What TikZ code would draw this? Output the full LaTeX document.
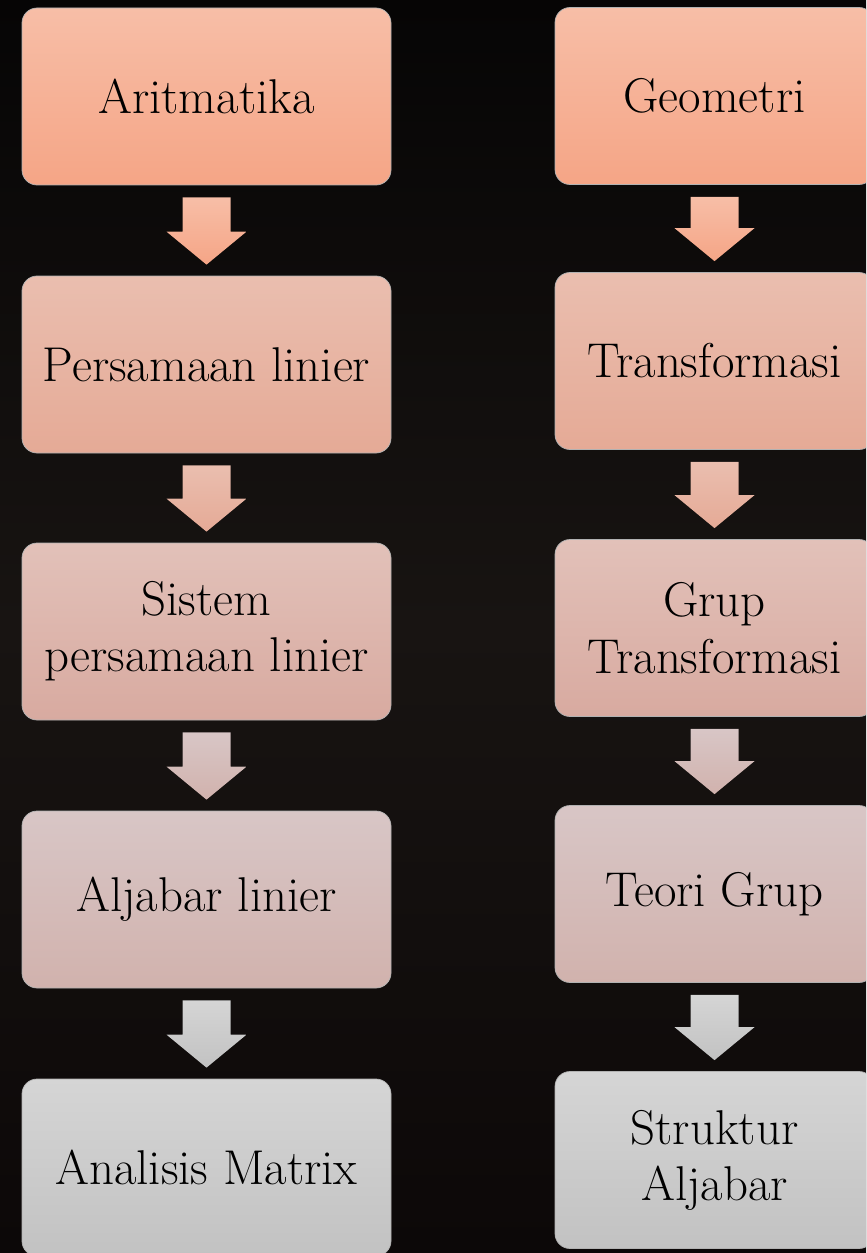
\documentclass[tikz,border=0pt]{standalone}
\usetikzlibrary{calc}

\definecolor{bgtop}{RGB}{6,5,5}
\definecolor{bgmid}{RGB}{24,20,18}
\definecolor{bgbot}{RGB}{12,8,8}
\definecolor{c1t}{RGB}{247,190,167}
\definecolor{c1b}{RGB}{245,165,134}
\definecolor{c2t}{RGB}{234,190,175}
\definecolor{c2b}{RGB}{229,170,150}
\definecolor{c3t}{RGB}{226,193,185}
\definecolor{c3b}{RGB}{216,170,160}
\definecolor{c4t}{RGB}{216,198,198}
\definecolor{c4b}{RGB}{209,178,173}
\definecolor{c5t}{RGB}{213,213,213}
\definecolor{c5b}{RGB}{194,194,194}

\begin{document}
\begin{tikzpicture}[
    box/.style={rounded corners=0.3cm, draw=black!30, line width=0.4pt,
        minimum height=3.54cm, inner sep=0pt, align=center,
        font=\fontsize{27.8}{32}\selectfont},
    leftbox/.style={box, minimum width=7.38cm},
    rightbox/.style={box, minimum width=6.38cm},
]
    \clip (0,0) rectangle (17.32,-25.06);
    \fill[top color=bgtop, bottom color=bgbot, middle color=bgmid] (0,0) rectangle (17.32,-25.06);

    % left column
    \node[leftbox, top color=c1t, bottom color=c1b] (arit) at (4.13,-1.93) {Aritmatika};
    \node[leftbox, top color=c2t, bottom color=c2b] (pers) at (4.13,-7.29) {Persamaan linier};
    \node[leftbox, top color=c3t, bottom color=c3b] (sist) at (4.13,-12.63) {Sistem\\persamaan linier};
    \node[leftbox, top color=c4t, bottom color=c4b] (alja) at (4.13,-17.99) {Aljabar linier};
    \node[leftbox, top color=c5t, bottom color=c5b] (anal) at (4.13,-23.35) {Analisis Matrix};

    % right column
    \node[rightbox, top color=c1t, bottom color=c1b] (geom) at (14.29,-1.92) {Geometri};
    \node[rightbox, top color=c2t, bottom color=c2b] (tran) at (14.29,-7.22) {Transformasi};
    \node[rightbox, top color=c3t, bottom color=c3b] (grup) at (14.29,-12.56) {Grup\\Transformasi};
    \node[rightbox, top color=c4t, bottom color=c4b] (teor) at (14.29,-17.88) {Teori Grup};
    \node[rightbox, top color=c5t, bottom color=c5b] (stru) at (14.29,-23.20) {Struktur\\Aljabar};

    % block arrows
    \foreach \a/\b/\ct/\cb in {arit/pers/c1t/c1b, pers/sist/c2t/c2b, sist/alja/c4t/c4b, alja/anal/c5t/c5b,
                               geom/tran/c1t/c1b, tran/grup/c2t/c2b, grup/teor/c4t/c4b, teor/stru/c5t/c5b} {
        \path (\a.south) ++(0,-0.24) coordinate (s) (\b.north) ++(0,0.22) coordinate (t);
        \fill[top color=\ct, bottom color=\cb]
            ($(s)+(-0.48,0)$) -- ($(s)+(0.48,0)$) -- ($(t)+(0.48,0.66)$) -- ($(t)+(0.8,0.66)$)
            -- (t) -- ($(t)+(-0.8,0.66)$) -- ($(t)+(-0.48,0.66)$) -- cycle;
    }
\end{tikzpicture}
\end{document}
